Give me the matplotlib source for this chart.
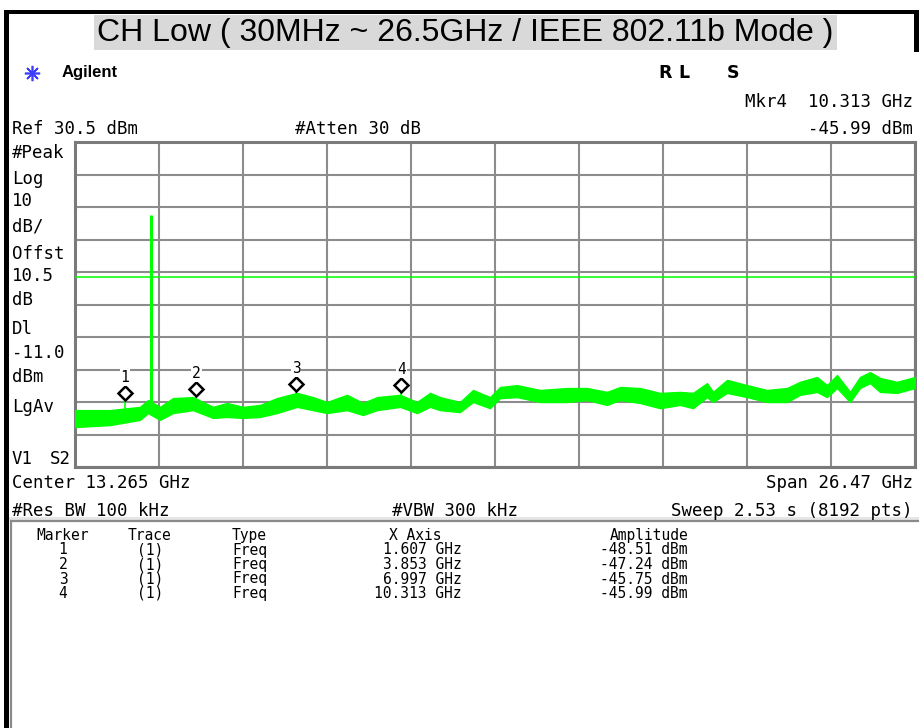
import numpy as np
import matplotlib
matplotlib.use("Agg")
import matplotlib.pyplot as plt
from matplotlib.patches import Rectangle
from matplotlib.lines import Line2D
from matplotlib.transforms import offset_copy

W, H = 920, 728

# ---------------- data ----------------
title = "CH Low ( 30MHz ~ 26.5GHz / IEEE 802.11b Mode )"
freq_start, freq_stop = 0.03, 26.5      # GHz
ref_level = 30.5                        # dBm
db_per_div = 10
display_line = -11.0                    # dBm
carrier_freq = 2.412                    # GHz
carrier_level = 8.0                     # dBm

trace_freq = [0.03, 1.133, 2.078, 2.330, 2.708, 3.118, 3.748, 4.379, 4.820, 5.324,
              5.860, 6.395, 7.026, 7.530, 7.971, 8.601, 9.105, 9.547, 10.271, 10.807,
              11.217, 11.532, 12.162, 12.572, 13.107, 13.423, 13.958, 14.683, 15.534, 16.164,
              16.794, 17.204, 17.834, 18.465, 19.095, 19.504, 19.946, 20.135, 20.576, 21.206,
              21.836, 22.467, 22.876, 23.412, 23.727, 24.042, 24.452, 24.767, 25.082, 25.397,
              25.933, 26.5]
trace_hi = [-52.0, -52.0, -51.0, -48.9, -51.0, -48.3, -48.0, -51.0, -49.8, -51.0,
            -50.4, -48.3, -46.7, -48.0, -49.5, -47.3, -49.8, -48.0, -47.3, -49.5,
            -46.7, -48.0, -49.5, -45.8, -48.0, -44.9, -44.3, -45.8, -45.2, -45.2,
            -46.4, -44.9, -45.2, -46.7, -46.4, -46.7, -43.7, -46.4, -42.7, -44.3,
            -45.8, -45.2, -43.3, -41.8, -44.3, -41.2, -46.4, -41.8, -40.3, -42.1,
            -43.3, -41.8]
trace_lo = [-57.2, -56.6, -55.0, -52.9, -55.0, -52.9, -52.0, -54.4, -54.1, -54.4,
            -54.1, -52.9, -51.0, -52.0, -52.9, -52.0, -53.5, -52.0, -51.0, -52.9,
            -51.0, -52.0, -52.6, -49.5, -51.4, -48.3, -48.0, -49.5, -49.5, -48.9,
            -50.4, -48.9, -49.8, -51.4, -50.4, -51.4, -48.0, -49.5, -46.7, -48.0,
            -49.5, -49.5, -47.3, -46.4, -48.0, -45.2, -49.5, -45.2, -43.7, -46.4,
            -46.7, -45.2]

marker_ids = [1, 2, 3, 4]
marker_freq = [1.607, 3.853, 6.997, 10.313]   # GHz
marker_amp = [-48.51, -47.24, -45.75, -45.99]  # dBm

left_labels = ["#Peak", "Log", "10", "dB/", "Offst", "10.5", "dB", "Dl", "-11.0", "dBm", "LgAv", "V1"]
left_label_y = [152, 177, 200, 225, 252, 275, 298, 328, 352, 375, 405, 458]

table_header = ["Marker", "Trace", "Type", "X Axis", "Amplitude"]
table_trace = ["(1)", "(1)", "(1)", "(1)"]
table_type = ["Freq", "Freq", "Freq", "Freq"]

# ---------------- figure ----------------
MONO = "DejaVu Sans Mono"
GREEN = "#00ff00"

fig = plt.figure(figsize=(W / 100, H / 100), dpi=100)
fig.patch.set_facecolor("white")


def fx(x):
    return x / W


def fy(y):
    return 1 - y / H


def ftext(x, y, s, **kw):
    kw.setdefault("family", MONO)
    kw.setdefault("fontsize", 12.5)
    kw.setdefault("va", "baseline")
    fig.text(fx(x), fy(y), s, **kw)


def frect(x0, y0, x1, y1, **kw):
    fig.patches.append(Rectangle((fx(x0), fy(y1)), (x1 - x0) / W, (y1 - y0) / H,
                                 transform=fig.transFigure, **kw))


# black frame pieces
frect(4, 10, 920, 13.5, fc="black", ec="none")
frect(4, 10, 9, 728, fc="black", ec="none")
frect(914.5, 10, 920, 52, fc="black", ec="none")

# title
frect(94, 15, 837, 50, fc="#d9d9d9", ec="none")
fig.text(fx(465.5), fy(33), title, ha="center", va="center",
         fontsize=23, family="Liberation Sans", color="black")

# Agilent logo
fig.add_artist(Line2D([fx(32)], [fy(73)], marker=(8, 2, 0), markersize=11,
                      color="#3d3dff", mew=1.2, transform=fig.transFigure))
fig.text(fx(62), fy(73), "Agilent", fontsize=12, fontweight="bold",
         family="Liberation Sans", va="center")
for s, x in zip(["R", "L", "S"], [658, 678, 727]):
    fig.text(fx(x), fy(78), s, fontsize=12.5, fontweight="bold",
             family="DejaVu Sans", va="baseline")

# header texts
ftext(913, 107, "Mkr4  10.313 GHz", ha="right")
ftext(12, 133.5, "Ref 30.5 dBm")
ftext(295, 133.5, "#Atten 30 dB")
ftext(913, 133.5, "-45.99 dBm", ha="right")

for s, y in zip(left_labels, left_label_y):
    ftext(12, y + 6.5, s)
ftext(50, left_label_y[-1] + 6.5, "S2")

ftext(12, 487.5, "Center 13.265 GHz")
ftext(913, 487.5, "Span 26.47 GHz", ha="right")
ftext(12, 515.5, "#Res BW 100 kHz")
ftext(392, 515.5, "#VBW 300 kHz")
ftext(913, 515.5, "Sweep 2.53 s (8192 pts)", ha="right")

# table panel
frect(9, 517, 920, 520, fc="#e6e6e6", ec="none")
fig.add_artist(Line2D([fx(11), fx(920)], [fy(521), fy(521)], color="#8a8a8a", lw=1.6,
                      transform=fig.transFigure))
fig.add_artist(Line2D([fx(11), fx(11)], [fy(521), fy(728)], color="#8a8a8a", lw=1.6,
                      transform=fig.transFigure))

TS = 10.5
row_y = [549.5, 564, 578.5, 593]
ftext(63, 540, table_header[0], ha="center", fontsize=TS)
ftext(150, 540, table_header[1], ha="center", fontsize=TS)
ftext(232, 540, table_header[2], ha="left", fontsize=TS)
ftext(415, 540, table_header[3], ha="center", fontsize=TS)
ftext(688, 540, table_header[4], ha="right", fontsize=TS)
for i in range(len(marker_ids)):
    yb = row_y[i] + 5
    ftext(63, yb, str(marker_ids[i]), ha="center", fontsize=TS)
    ftext(150, yb, table_trace[i], ha="center", fontsize=TS)
    ftext(232, yb, table_type[i], ha="left", fontsize=TS)
    ftext(462, yb, f"{marker_freq[i]:.3f} GHz", ha="right", fontsize=TS)
    ftext(688, yb, f"{marker_amp[i]:.2f} dBm", ha="right", fontsize=TS)

# ---------------- plot axes ----------------
ax = fig.add_axes([fx(75), fy(467), 840 / W, 325 / H])
ax.set_xlim(freq_start, freq_stop)
ax.set_ylim(ref_level - 10 * db_per_div, ref_level)
ax.set_xticks(np.linspace(freq_start, freq_stop, 11))
ax.set_yticks(np.arange(ref_level - 10 * db_per_div, ref_level + 0.01, db_per_div))
ax.tick_params(length=0, labelbottom=False, labelleft=False)
ax.grid(True, color="#8c8c8c", lw=1.5)
ax.set_axisbelow(True)
for sp in ax.spines.values():
    sp.set_color("#7a7a7a")
    sp.set_linewidth(2.2)

# trace
ax.fill_between(trace_freq, trace_lo, trace_hi, color=GREEN, lw=1.0,
                edgecolor=GREEN, zorder=3)
ax.vlines(carrier_freq, -52.0, carrier_level, color=GREEN, lw=2.2, zorder=3)
ax.axhline(display_line, color=GREEN, lw=1.1, zorder=3)

# markers
diamond_tr = offset_copy(ax.transData, fig=fig, x=0, y=6, units="dots")
label_tr = offset_copy(ax.transData, fig=fig, x=0, y=21, units="dots")
for mid, f, a in zip(marker_ids, marker_freq, marker_amp):
    ax.vlines(f, a - 4.5, a, color=GREEN, lw=1.2, zorder=3)
    ax.plot([f], [a], marker="D", ms=7.3, mfc="white", mec="black", mew=1.8,
            transform=diamond_tr, zorder=5, clip_on=False)
    ax.text(f, a, str(mid), transform=label_tr, ha="center", va="center",
            fontsize=10.5, family=MONO, zorder=5,
            bbox=dict(fc="white", ec="none", pad=0.6))

fig.savefig("out.png", dpi=100, facecolor="white")
